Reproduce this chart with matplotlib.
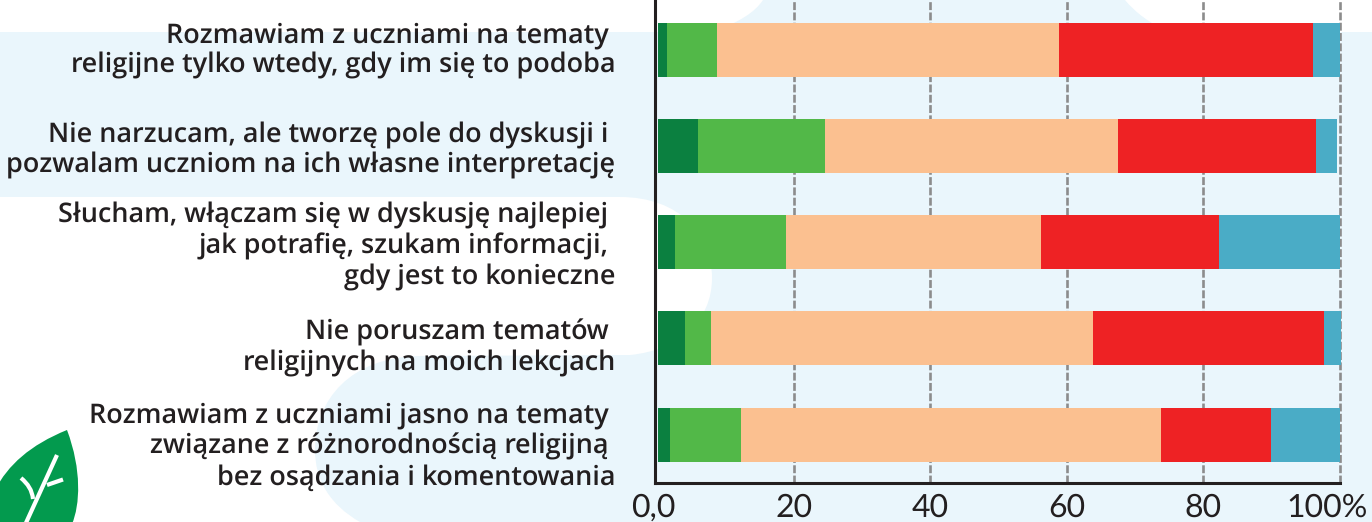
import matplotlib
matplotlib.use('Agg')
import matplotlib.pyplot as plt
import numpy as np
from matplotlib.path import Path
from matplotlib.patches import PathPatch
from matplotlib.transforms import ScaledTranslation

plt.rcParams['text.hinting'] = 'no_hinting'
plt.rcParams['text.hinting_factor'] = 1

categories = [
    "Rozmawiam z uczniami na tematy \nreligijne tylko wtedy, gdy im się to podoba",
    "Nie narzucam, ale tworzę pole do dyskusji i \npozwalam uczniom na ich własne interpretację",
    "Słucham, włączam się w dyskusję najlepiej \njak potrafię, szukam informacji, \ngdy jest to konieczne",
    "Nie poruszam tematów \nreligijnych na moich lekcjach",
    "Rozmawiam z uczniami jasno na tematy \nzwiązane z różnorodnością religijną \nbez osądzania i komentowania",
]
s1 = [1.4, 6.0, 2.5, 4.0, 1.8]
s2 = [7.3, 18.5, 16.3, 3.9, 10.4]
s3 = [50.1, 43.0, 37.5, 56.0, 61.6]
s4 = [37.3, 29.0, 26.1, 33.9, 16.1]
s5 = [4.0, 3.2, 17.6, 2.4, 10.2]
series = [s1, s2, s3, s4, s5]
colors = ['#0B8040', '#52B848', '#FBC090', '#EE2224', '#4AACC6']
xticks = [0, 20, 40, 60, 80, 100]
xticklabels = ['0,0', '20', '40', '60', '80', '100%']

W, H = 1372, 522
fig = plt.figure(figsize=(W/100, H/100), dpi=100, facecolor='white')

# decorative background, in pixel coordinates
bg = fig.add_axes([0, 0, 1, 1], zorder=0)
bg.set_xlim(0, W); bg.set_ylim(H, 0); bg.axis('off')
M, L, C, Z = Path.MOVETO, Path.LINETO, Path.CURVE4, Path.CLOSEPOLY
verts = [(0,32),(712,32),(740,22),(755,12),(763,0),(1125,0),(1135,12),(1150,24),(1170,32),
         (1372,32),(1372,522),(360,522),(330,505),(315,480),(315,450),(315,400),(350,357),(420,356),
         (630,355),(680,350),(712,320),(712,278),(712,235),(680,197),(620,197),(0,197),(0,32)]
codes = [M,L,C,C,C,L,C,C,C,L,L,L,C,C,C,C,C,C,L,C,C,C,C,C,C,L,Z]
bg.add_patch(PathPatch(Path(verts, codes), fc='#EAF6FC', ec='none'))
leaf_v = [(67,430),(30,445),(8,465),(-5,490),(-15,510),(-10,522),(0,530),(72,530),(72,530),(72,524),
          (80,505),(82,470),(67,430)]
leaf_c = [M,C,C,C,C,C,C,L,L,L,C,C,C]
bg.add_patch(PathPatch(Path(leaf_v, leaf_c), fc='#039A4E', ec='none'))
bg.plot([57,25],[455,525],color='white',lw=3,solid_capstyle='butt')
bg.plot([47,63],[485,479.5],color='white',lw=3,solid_capstyle='butt')
bg.add_patch(PathPatch(Path([(21,478),(28,484),(32,490),(33,499)],[M,C,C,C]),fc='none',ec='white',lw=3))

x0, x1, bottom = 657.5, 1339.5, 483
ax = fig.add_axes([x0/W, 1-bottom/H, (x1-x0)/W, bottom/H], zorder=1)
ax.patch.set_alpha(0)
for s in ['top', 'right']:
    ax.spines[s].set_visible(False)
for s in ['left', 'bottom']:
    ax.spines[s].set_linewidth(2.2)
    ax.spines[s].set_color('#231F20')
ax.spines['left'].set_position(('outward', 1.8))

y = np.arange(len(categories))
left = np.zeros(len(y))
for vals, col in zip(series, colors):
    ax.barh(y, vals, left=left, height=0.5625, color=col, edgecolor='none', zorder=3, clip_on=False)
    left = left + np.array(vals)
ax.set_xlim(0, 100)
ax.set_ylim(4.505, -0.525)
ax.set_xticks(xticks)
ax.set_xticklabels(xticklabels, fontsize=23, family='Lato', color='#231F20')
ax.set_yticks(y)
ax.set_yticklabels(categories, fontsize=19.2, family='Open Sans', weight=600, color='#231F20',
                   linespacing=1.18, ha='right')
ax.tick_params(axis='both', length=0)
ax.tick_params(axis='x', pad=7)
ax.tick_params(axis='y', pad=28.5)
ax.grid(False)
for t in xticks[1:]:
    ax.axvline(t, color='#8C8C8C', lw=1.9, dashes=(3.0, 0.9), zorder=1, clip_on=False)
ax.spines['bottom'].set_bounds(-0.37, 100)

label_dy_px = [5, 1, 1, -4, -7]
for lab, d in zip(ax.get_yticklabels(), label_dy_px):
    lab.set_transform(lab.get_transform() + ScaledTranslation(0, d/100, fig.dpi_scale_trans))
xlabs = ax.get_xticklabels()
xlabs[0].set_transform(xlabs[0].get_transform() + ScaledTranslation(-4/100, 0, fig.dpi_scale_trans))
xlabs[-1].set_transform(xlabs[-1].get_transform() + ScaledTranslation(-12/100, 0, fig.dpi_scale_trans))

fig.savefig('out.png', dpi=100, facecolor='white')
